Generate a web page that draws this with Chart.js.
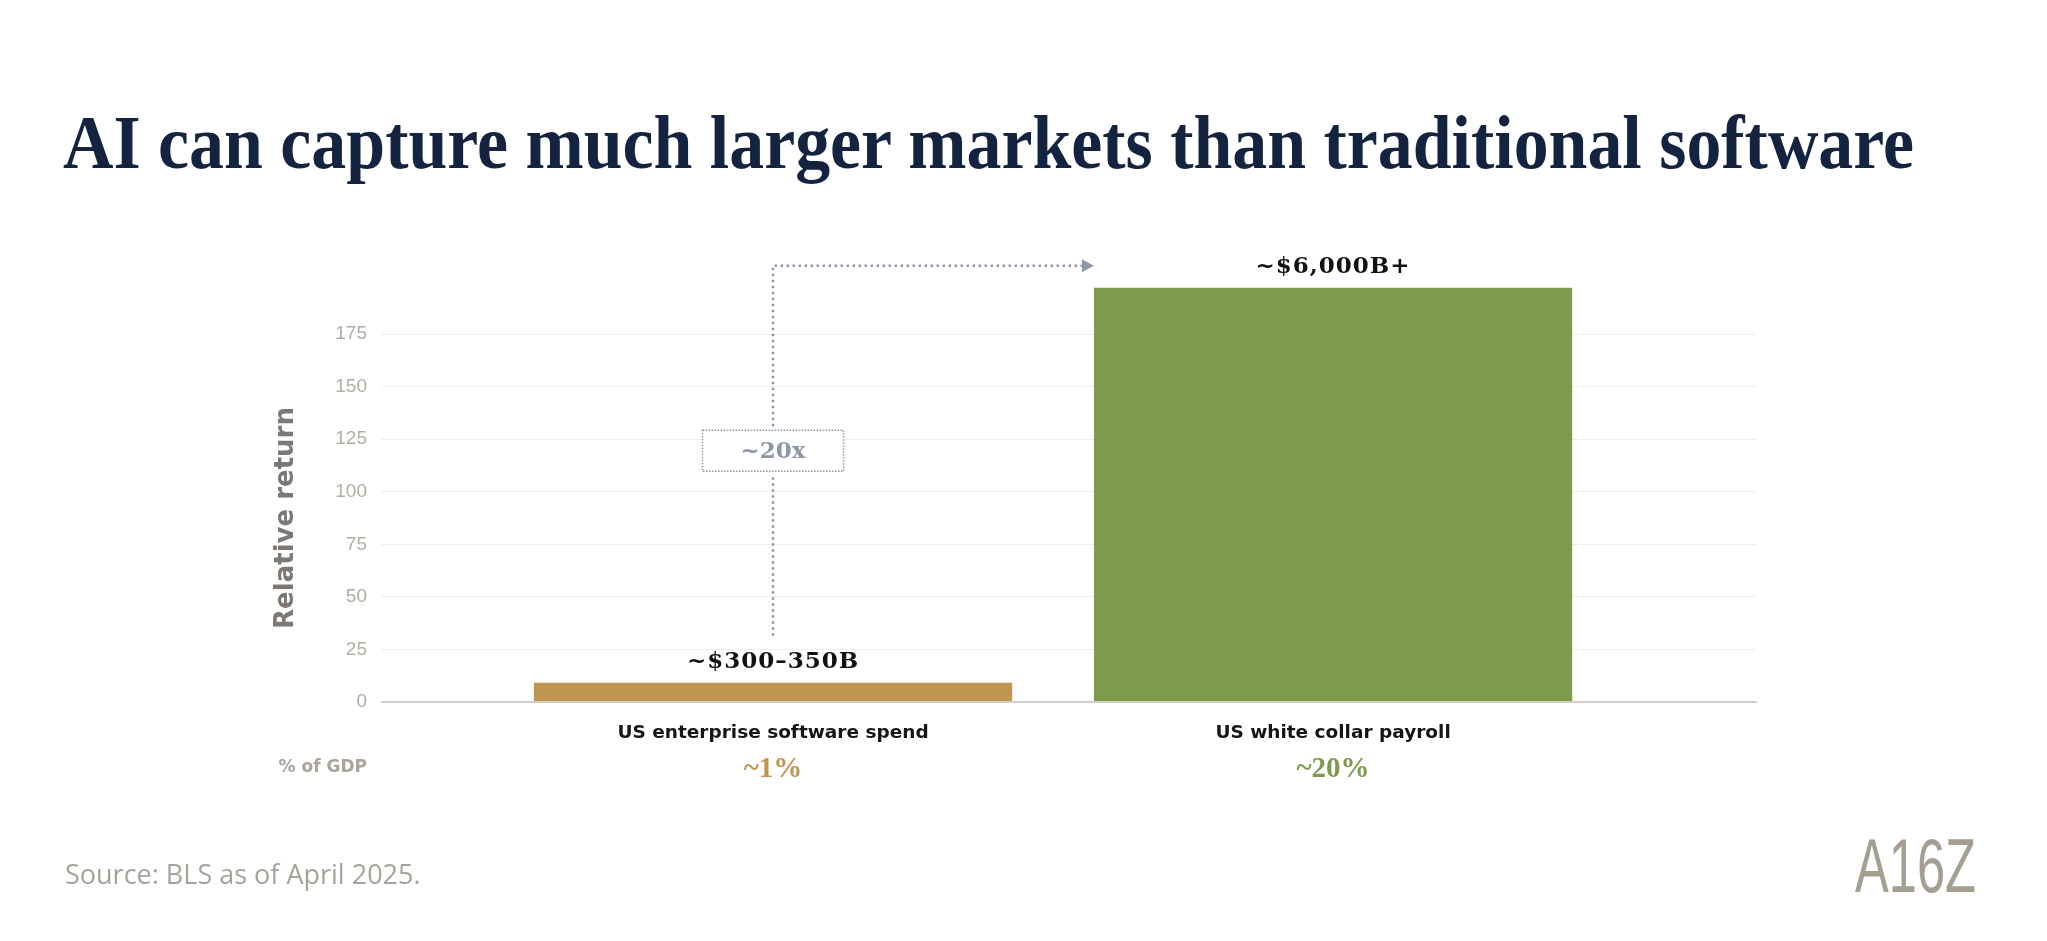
<!DOCTYPE html>
<html>
<head>
<meta charset="utf-8">
<script src="https://cdn.jsdelivr.net/npm/chart.js@4.4.1/dist/chart.umd.min.js"></script>
<style>
  html, body { margin: 0; padding: 0; background: #ffffff; }
  body { width: 2047px; height: 941px; position: relative; overflow: hidden; }
  #chart { position: absolute; left: 0; top: 0; }
  .title {
    position: absolute; left: 63px; top: 104px;
    font-family: 'Liberation Serif', serif; font-weight: bold; font-size: 77px;
    line-height: 1; color: #14233f; white-space: nowrap; transform-origin: 0 0;
  }
  .source {
    position: absolute; left: 65px; top: 860px;
    font-family: 'Open Sans', sans-serif; font-size: 27px;
    line-height: 1; color: #a8a39a; white-space: nowrap;
  }
  .logo {
    position: absolute; left: 1855px; top: 828px;
    font-family: 'Liberation Sans', sans-serif; font-size: 76px;
    line-height: 1; color: #a59f92; white-space: nowrap; transform-origin: 0 0;
  }
</style>
</head>
<body>
<canvas id="chart" width="2047" height="941"></canvas>
<div class="title">AI can capture much larger markets than traditional software</div>
<div class="source">Source: BLS as of April 2025.</div>
<div class="logo">A16Z</div>
<script>
// chart data
const categories = ['US enterprise software spend', 'US white collar payroll'];
const relativeReturn = [9.2, 197];
const marketSizes = ['~$300–350B', '~$6,000B+'];
const gdpShares = ['~1%', '~20%'];
const barColors = ['#bf9550', '#7e9b4d'];
const yTicks = [0, 25, 50, 75, 100, 125, 150, 175];
const multipleLabel = '~20x';

// labels above bars, the % of GDP row and the dotted ~20x arrow
const annotationsPlugin = {
    id: 'annotations',
    afterDatasetsDraw(chart) {
        const ctx = chart.ctx;
        const area = chart.chartArea;
        const bars = chart.getDatasetMeta(0).data;
        ctx.save();

        ctx.textAlign = 'center';
        ctx.textBaseline = 'alphabetic';
        ctx.font = 'bold 23px "DejaVu Serif"';
        ctx.letterSpacing = '1px';
        ctx.fillStyle = '#111111';
        bars.forEach((bar, i) => {
            ctx.fillText(marketSizes[i], bar.x, bar.y - 15);
        });
        ctx.letterSpacing = '0px';

        ctx.font = 'bold 29px "Liberation Serif"';
        bars.forEach((bar, i) => {
            ctx.fillStyle = barColors[i];
            ctx.fillText(gdpShares[i], bar.x, area.bottom + 75);
        });

        ctx.textAlign = 'right';
        ctx.font = 'bold 17px "DejaVu Sans"';
        ctx.fillStyle = '#a9a49c';
        ctx.fillText('% of GDP', area.left - 14, area.bottom + 70);

        // arrow from small bar to big bar
        const a = bars[0];
        const b = bars[1];
        const lineTop = b.y - 22;
        const lineBottom = a.y - 47;
        const tipX = b.x - b.width / 2;
        const boxW = 141, boxH = 41;
        const boxCy = (lineTop + lineBottom) / 2;

        ctx.strokeStyle = '#8e97a8';
        ctx.lineWidth = 2.5;
        ctx.setLineDash([2.5, 3.5]);
        ctx.beginPath();
        ctx.moveTo(a.x, lineBottom);
        ctx.lineTo(a.x, boxCy + boxH / 2 + 4);
        ctx.moveTo(a.x, boxCy - boxH / 2 - 4);
        ctx.lineTo(a.x, lineTop);
        ctx.lineTo(tipX - 11, lineTop);
        ctx.stroke();
        ctx.setLineDash([]);

        ctx.fillStyle = '#8e97a8';
        ctx.beginPath();
        ctx.moveTo(tipX, lineTop);
        ctx.lineTo(tipX - 12, lineTop - 6.5);
        ctx.lineTo(tipX - 12, lineTop + 6.5);
        ctx.closePath();
        ctx.fill();

        ctx.fillStyle = '#ffffff';
        ctx.fillRect(a.x - boxW / 2, boxCy - boxH / 2, boxW, boxH);
        ctx.lineWidth = 1.5;
        ctx.setLineDash([1.5, 1.5]);
        ctx.strokeRect(a.x - boxW / 2, boxCy - boxH / 2, boxW, boxH);
        ctx.setLineDash([]);

        ctx.textAlign = 'center';
        ctx.textBaseline = 'middle';
        ctx.font = 'bold 23px "DejaVu Serif"';
        ctx.fillStyle = '#8e97a8';
        ctx.fillText(multipleLabel, a.x, boxCy + 1);

        ctx.restore();
    }
};

const chart = new Chart(document.getElementById('chart'), {
    type: 'bar',
    data: {
        datasets: [{
            data: relativeReturn.map((v, i) => ({x: i, y: v})),
            backgroundColor: barColors,
            borderWidth: 0,
            barPercentage: 1,
            categoryPercentage: 0.854,
            clip: false
        }]
    },
    options: {
        responsive: false,
        animation: false,
        devicePixelRatio: 1,
        layout: {
            padding: {left: 271, right: 290, top: 334, bottom: 189}
        },
        plugins: {
            legend: {display: false},
            tooltip: {enabled: false}
        },
        scales: {
            x: {
                type: 'linear',
                offset: false,
                min: -0.7,
                max: 1.757,
                afterBuildTicks: (scale) => {
                    scale.ticks = categories.map((c, i) => ({value: i}));
                },
                afterFit: (scale) => { scale.height = 50; },
                grid: {display: false, drawTicks: false, offset: false},
                border: {display: false},
                ticks: {
                    autoSkip: false,
                    maxRotation: 0,
                    padding: 20,
                    color: '#151515',
                    font: {family: 'DejaVu Sans', weight: 'bold', size: 18.5},
                    callback: (value) => categories[value]
                }
            },
            y: {
                min: 0,
                max: 175,
                afterBuildTicks: (scale) => {
                    scale.ticks = yTicks.map(v => ({value: v}));
                },
                afterFit: (scale) => { scale.width = 110; },
                grid: {
                    drawTicks: false,
                    color: (c) => c.tick && c.tick.value === 0 ? '#d3cec6' : '#f1efeb',
                    lineWidth: (c) => c.tick && c.tick.value === 0 ? 2 : 1
                },
                border: {display: false},
                ticks: {
                    padding: 14,
                    color: '#b3ada4',
                    font: {family: 'Liberation Sans', size: 19}
                },
                title: {
                    display: true,
                    text: 'Relative return',
                    color: '#7d7873',
                    padding: {top: 0, bottom: 0},
                    font: {family: 'DejaVu Sans', weight: 'bold', size: 26}
                }
            }
        }
    },
    plugins: [annotationsPlugin]
});

// fit title and logo to the reference widths
function fitWidth(el, target) {
    const w = el.getBoundingClientRect().width;
    el.style.transform = 'scaleX(' + (target / w) + ')';
}
fitWidth(document.querySelector('.title'), 1851);
fitWidth(document.querySelector('.logo'), 121);
</script>
</body>
</html>
